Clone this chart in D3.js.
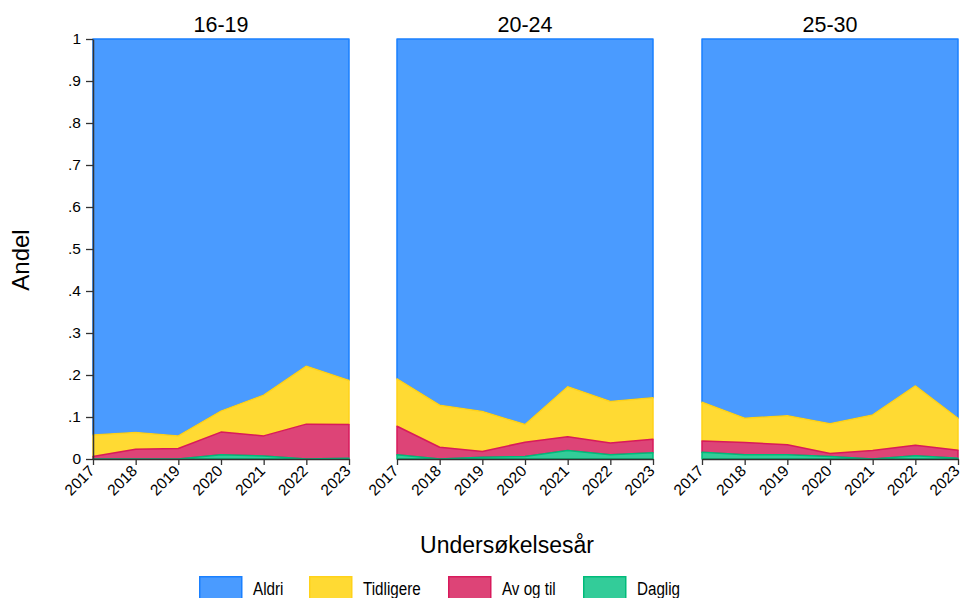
<!DOCTYPE html>
<html>
<head>
<meta charset="utf-8">
<script src="https://cdn.jsdelivr.net/npm/d3@7"></script>
<style>
  html, body { margin: 0; padding: 0; background: #fff; }
  svg { display: block; font-family: "Liberation Sans", Arial, sans-serif; }
</style>
</head>
<body>
<svg id="chart" width="961" height="598"></svg>
<script>
// Andel per svarkategori, per aldersgruppe og undersøkelsesår
const years = [2017, 2018, 2019, 2020, 2021, 2022, 2023];
const groups = ["16-19", "20-24", "25-30"];
const categories = ["Daglig", "Av og til", "Tidligere", "Aldri"];
const legendOrder = ["Aldri", "Tidligere", "Av og til", "Daglig"];
const yTicks = [0, 0.1, 0.2, 0.3, 0.4, 0.5, 0.6, 0.7, 0.8, 0.9, 1];

const daglig = {
  "16-19": [0.000, 0.000, 0.000, 0.010, 0.007, 0.000, 0.002],
  "20-24": [0.010, 0.000, 0.004, 0.006, 0.020, 0.010, 0.015],
  "25-30": [0.016, 0.010, 0.010, 0.006, 0.000, 0.008, 0.002]
};
const avOgTil = {
  "16-19": [0.006, 0.023, 0.025, 0.054, 0.048, 0.083, 0.080],
  "20-24": [0.068, 0.028, 0.014, 0.034, 0.033, 0.028, 0.032],
  "25-30": [0.027, 0.029, 0.024, 0.007, 0.020, 0.025, 0.019]
};
const tidligere = {
  "16-19": [0.051, 0.040, 0.030, 0.050, 0.097, 0.138, 0.105],
  "20-24": [0.113, 0.100, 0.095, 0.042, 0.119, 0.099, 0.099],
  "25-30": [0.092, 0.058, 0.069, 0.071, 0.085, 0.141, 0.076]
};

const fills   = { "Aldri": "#4a9bff", "Tidligere": "#ffda33", "Av og til": "#dd4477", "Daglig": "#33cc99" };
const strokes = { "Aldri": "#1a80ff", "Tidligere": "#ffd21a", "Av og til": "#d81a5c", "Daglig": "#00bb7a" };

const svg = d3.select("#chart");
const panelLeft = [93, 397, 702];
const panelWidth = 256;
const plotTop = 39, plotBottom = 459;

const y = d3.scaleLinear().domain([0, 1]).range([plotBottom, plotTop]);
const fmt = v => v === 0 ? "0" : v === 1 ? "1" : d3.format(".1f")(v).replace(/^0/, "");

groups.forEach((g, gi) => {
  const x = d3.scaleLinear().domain([2017, 2023]).range([panelLeft[gi], panelLeft[gi] + panelWidth]);
  const rows = years.map((yr, i) => {
    const d = daglig[g][i], a = avOgTil[g][i], t = tidligere[g][i];
    return { year: yr, "Daglig": d, "Av og til": a, "Tidligere": t, "Aldri": 1 - d - a - t };
  });
  const stacked = d3.stack().keys(categories)(rows);
  const area = d3.area()
    .x(d => x(d.data.year))
    .y0(d => y(d[0]))
    .y1(d => y(d[1]));

  const gp = svg.append("g");
  // draw top layer first so lower layers' outlines stay visible
  stacked.slice().reverse().forEach(layer => {
    gp.append("path")
      .datum(layer)
      .attr("d", area)
      .attr("fill", fills[layer.key])
      .attr("stroke", strokes[layer.key])
      .attr("stroke-width", 1.5)
      .attr("stroke-linejoin", "round");
  });

  // x axis
  const xAxis = d3.axisBottom(x).tickValues(years).tickFormat(d3.format("d")).tickSize(6).tickSizeOuter(0);
  const xa = svg.append("g").attr("transform", `translate(0,${plotBottom})`).call(xAxis);
  xa.select(".domain").attr("stroke", "#333").attr("stroke-width", 1.5);
  xa.selectAll(".tick line").attr("stroke", "#333").attr("stroke-width", 1.3);
  xa.selectAll(".tick text")
    .attr("font-size", 15.5)
    .attr("fill", "#000")
    .attr("text-anchor", "end")
    .attr("x", 0)
    .attr("y", 0)
    .attr("dy", 0)
    .attr("transform", "translate(2,13) rotate(-45)");

  // panel title
  svg.append("text")
    .attr("x", panelLeft[gi] + panelWidth / 2)
    .attr("y", 32)
    .attr("text-anchor", "middle")
    .attr("font-size", 21.5)
    .attr("fill", "#000")
    .text(g);

  if (gi === 0) {
    const yAxis = d3.axisLeft(y).tickValues(yTicks).tickFormat(fmt).tickSize(7).tickSizeOuter(0);
    const ya = svg.append("g").attr("transform", `translate(${panelLeft[0]},0)`).call(yAxis);
    ya.select(".domain").attr("stroke", "#333").attr("stroke-width", 1.5);
    ya.selectAll(".tick line").attr("stroke", "#333").attr("stroke-width", 1.3);
    ya.selectAll(".tick text").attr("font-size", 15.5).attr("fill", "#000").attr("x", -12);
  }
});

// axis titles
svg.append("text")
  .attr("transform", "translate(29,260) rotate(-90)")
  .attr("text-anchor", "middle")
  .attr("font-size", 24)
  .attr("fill", "#000")
  .text("Andel");

svg.append("text")
  .attr("x", 507)
  .attr("y", 553)
  .attr("text-anchor", "middle")
  .attr("font-size", 23)
  .attr("fill", "#000")
  .text("Undersøkelsesår");

// legend
const legendX = [199, 309, 448, 583];
const lg = svg.append("g");
legendOrder.forEach((k, i) => {
  lg.append("rect")
    .attr("x", legendX[i] + 0.75).attr("y", 576.75)
    .attr("width", 42).attr("height", 24)
    .attr("fill", fills[k]).attr("stroke", strokes[k]).attr("stroke-width", 1.5);
  lg.append("text")
    .attr("transform", `translate(${legendX[i] + 54},595) scale(0.8,1)`)
    .attr("font-size", 19)
    .attr("fill", "#000")
    .text(k);
});
</script>
</body>
</html>
